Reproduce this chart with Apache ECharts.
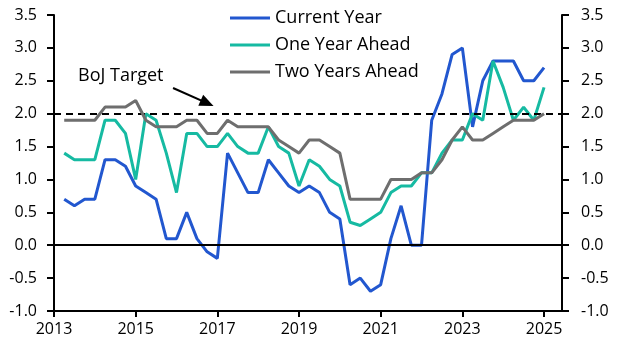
<!DOCTYPE html>
<html>
<head>
<meta charset="utf-8">
<script src="https://cdn.jsdelivr.net/npm/echarts@6/dist/echarts.min.js"></script>
<style>
html,body{margin:0;padding:0;background:#fff;}
#chart{width:626px;height:357px;}
</style>
</head>
<body>
<div id="chart"></div>
<script>
// Quarterly observations, first at 2013.25, step 0.25 year
const firstDate = 2013.25;
const baseYear = 2013;
const currentYear = [0.7,0.6,0.7,0.7,1.3,1.3,1.2,0.9,0.8,0.7,0.1,0.1,0.5,0.1,-0.1,-0.2,
  1.4,1.1,0.8,0.8,1.3,1.1,0.9,0.8,0.9,0.8,0.5,0.4,-0.6,-0.5,-0.7,-0.6,
  0.1,0.6,0.0,0.0,1.9,2.3,2.9,3.0,1.8,2.5,2.8,2.8,2.8,2.5,2.5,2.7];
const oneYearAhead = [1.4,1.3,1.3,1.3,1.9,1.9,1.7,1.0,2.0,1.9,1.4,0.8,1.7,1.7,1.5,1.5,
  1.7,1.5,1.4,1.4,1.8,1.5,1.4,0.9,1.3,1.2,1.0,0.9,0.35,0.3,0.4,0.5,
  0.8,0.9,0.9,1.1,1.1,1.4,1.6,1.6,2.0,1.9,2.8,2.4,1.9,2.1,1.9,2.4];
const twoYearsAhead = [1.9,1.9,1.9,1.9,2.1,2.1,2.1,2.2,1.9,1.8,1.8,1.8,1.9,1.9,1.7,1.7,
  1.9,1.8,1.8,1.8,1.8,1.6,1.5,1.4,1.6,1.6,1.5,1.4,0.7,0.7,0.7,0.7,
  1.0,1.0,1.0,1.1,1.1,1.3,1.6,1.8,1.6,1.6,1.7,1.8,1.9,1.9,1.9,2.0];
const xTickYears = [2013,2015,2017,2019,2021,2023,2025];
const yTicks = [-1.0,-0.5,0.0,0.5,1.0,1.5,2.0,2.5,3.0,3.5];
const seriesNames = ['Current Year','One Year Ahead','Two Years Ahead'];
const bojTarget = 2.0;
const annotationText = 'BoJ Target';
const arrowFrom = [2015.915, 2.39];
const arrowTo = [2016.75, 2.16];

const dates = currentYear.map((_, i) => firstDate + 0.25 * i);
const toX = y => y - baseYear;
const pairs = arr => arr.map((v, i) => [toX(dates[i]), v]);

const FONT = 'Open Sans';
const colors = ['#2257CF', '#16BAA2', '#6E6E6E'];

const chart = echarts.init(document.getElementById('chart'), null, {renderer: 'canvas'});

const yAxisCommon = {
  type: 'value', min: -1, max: 3.5, interval: 0.5,
  axisLine: {show: true, lineStyle: {color: '#000', width: 2}},
  axisTick: {show: true, length: 7, lineStyle: {color: '#000', width: 2}},
  splitLine: {show: false},
  axisLabel: {fontFamily: FONT, fontSize: 16, color: '#000', formatter: v => v.toFixed(1)}
};

chart.setOption({
  animation: false,
  backgroundColor: '#fff',
  color: colors,
  grid: {left: 54, right: 64, top: 15, bottom: 46, containLabel: false},
  legend: {
    show: true, orient: 'vertical', left: 225, top: 4,
    itemWidth: 40, itemHeight: 3, itemGap: 9, icon: 'rect',
    textStyle: {fontFamily: FONT, fontSize: 18, color: '#000', lineHeight: 18, padding: [0,0,0,0]},
    data: seriesNames
  },
  xAxis: {
    type: 'value', min: 0, max: 12.44, interval: 2,
    axisLine: {show: true, onZero: false, lineStyle: {color: '#000', width: 2}},
    axisTick: {show: true, length: 6, customValues: xTickYears.map(toX), lineStyle: {color: '#000', width: 2}},
    splitLine: {show: false},
    axisLabel: {fontFamily: FONT, fontSize: 16, color: '#000', margin: 10,
      customValues: xTickYears.map(toX), formatter: v => String(Math.round(v + baseYear))}
  },
  yAxis: [
    Object.assign({position: 'left'}, yAxisCommon, {axisLabel: Object.assign({}, yAxisCommon.axisLabel, {margin: 17})}),
    Object.assign({position: 'right'}, yAxisCommon, {axisLabel: Object.assign({}, yAxisCommon.axisLabel, {margin: 19})})
  ],
  graphic: [{
    type: 'text', left: 78, top: 67,
    style: {text: annotationText, fontFamily: FONT, fontSize: 18, fill: '#000'}
  }],
  series: [
    {
      name: seriesNames[0], type: 'line', data: pairs(currentYear), showSymbol: false, symbol: 'none',
      lineStyle: {width: 3, color: colors[0]}, z: 3,
      markLine: {
        silent: true, symbol: 'none', animation: false,
        label: {show: false},
        data: [
          {yAxis: 0, lineStyle: {color: '#000', width: 2, type: 'solid'}},
          {yAxis: bojTarget, lineStyle: {color: '#000', width: 2, type: [7, 5]}},
          [
            {coord: [toX(arrowFrom[0]), arrowFrom[1]], symbol: 'none', lineStyle: {color: '#000', width: 2, type: 'solid'}},
            {coord: [toX(arrowTo[0]), arrowTo[1]], symbol: 'triangle', symbolSize: [12, 14]}
          ]
        ]
      }
    },
    {name: seriesNames[1], type: 'line', data: pairs(oneYearAhead), showSymbol: false, symbol: 'none',
      lineStyle: {width: 3, color: colors[1]}, z: 4},
    {name: seriesNames[2], type: 'line', data: pairs(twoYearsAhead), showSymbol: false, symbol: 'none',
      lineStyle: {width: 3, color: colors[2]}, z: 5}
  ]
});
</script>
</body>
</html>
